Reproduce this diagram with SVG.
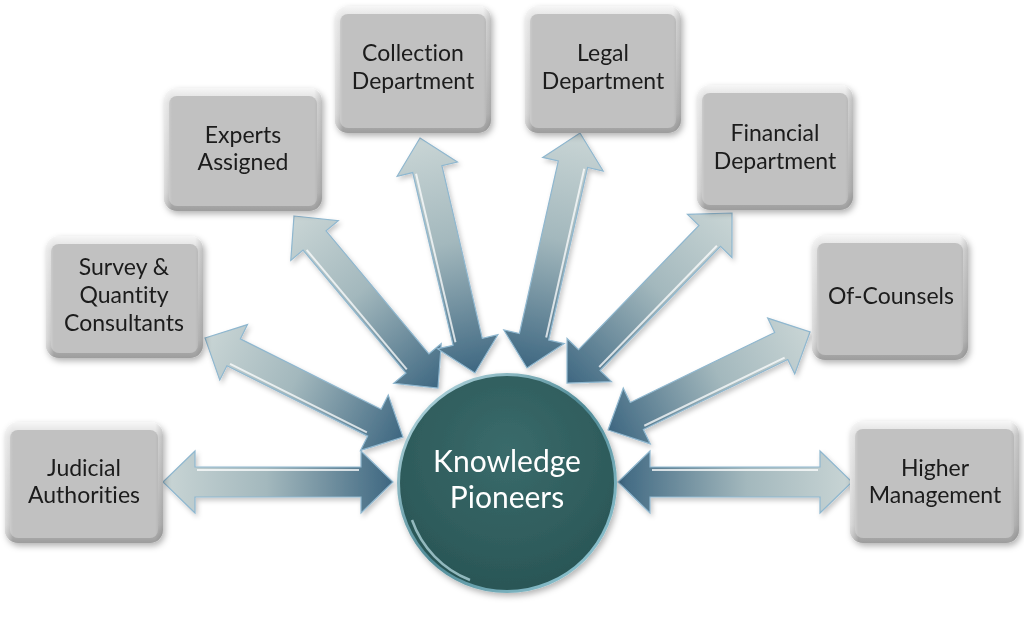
<svg xmlns="http://www.w3.org/2000/svg" width="1024" height="618" viewBox="0 0 1024 618">
<defs>
<linearGradient id="arrowGrad" x1="0" y1="0" x2="1" y2="0">
<stop offset="0" stop-color="#c9d5d5"/>
<stop offset="0.45" stop-color="#a3b8bd"/>
<stop offset="1" stop-color="#3e6781"/>
</linearGradient>
<linearGradient id="boxOuter" x1="0" y1="0" x2="0" y2="1">
<stop offset="0" stop-color="#f7f7f7"/>
<stop offset="0.12" stop-color="#dadada"/>
<stop offset="0.85" stop-color="#bcbcbc"/>
<stop offset="1" stop-color="#9d9d9d"/>
</linearGradient>
<linearGradient id="boxSide" x1="0" y1="0" x2="1" y2="0">
<stop offset="0" stop-color="#ffffff" stop-opacity="0.5"/>
<stop offset="0.05" stop-color="#ffffff" stop-opacity="0"/>
<stop offset="0.95" stop-color="#000000" stop-opacity="0"/>
<stop offset="1" stop-color="#000000" stop-opacity="0.12"/>
</linearGradient>
<radialGradient id="circleGrad" cx="0.5" cy="0.35" r="0.65">
<stop offset="0" stop-color="#3a6b6b"/>
<stop offset="1" stop-color="#2a5656"/>
</radialGradient>
<linearGradient id="rimGrad" x1="0" y1="0" x2="1" y2="1">
<stop offset="0" stop-color="#c8e6ee"/>
<stop offset="0.5" stop-color="#4f8a96"/>
<stop offset="1" stop-color="#9fd3e0"/>
</linearGradient>
<filter id="shadow" x="-20%" y="-20%" width="140%" height="140%">
<feDropShadow dx="2" dy="3" stdDeviation="3" flood-color="#000" flood-opacity="0.3"/>
</filter>
<filter id="ashadow" x="-20%" y="-40%" width="140%" height="180%">
<feDropShadow dx="2" dy="3" stdDeviation="2.5" flood-color="#000" flood-opacity="0.22"/>
</filter>
</defs>
<style>
.arrow { fill: url(#arrowGrad); stroke: #8fb7cf; stroke-width: 1.2; stroke-linejoin: miter; }
.hl { stroke: #ffffff; stroke-opacity: 0.75; stroke-width: 2; fill: none; }
.box-outer { fill: url(#boxOuter); }
.box-inner { fill: #c1c1c1; }
.box-side { fill: url(#boxSide); }
.label { font-family: Lato, "Open Sans", "Liberation Sans", sans-serif; font-size: 23px; fill: #1a1a1a; text-anchor: middle; font-variant-ligatures: none; }
.center-label { font-family: Lato, "Open Sans", "Liberation Sans", sans-serif; font-size: 30px; fill: #ffffff; text-anchor: middle; font-variant-ligatures: none; }
</style>
<rect width="1024" height="618" fill="#ffffff"/>

<g id="connectors" filter="url(#ashadow)">
<g transform="translate(163,482) rotate(0)">
<path class="arrow" d="M0,0 L32,-31 L32,-15 L198,-15 L198,-31 L230,0 L198,31 L198,15 L32,15 L32,31 Z"/>
<path class="hl" d="M34,-12 L196,-12"/>
</g>
<g transform="translate(205,338) rotate(26.57)">
<path class="arrow" d="M0,0 L32,-31 L32,-15 L189.4,-15 L189.4,-31 L221.4,0 L189.4,31 L189.4,15 L32,15 L32,31 Z"/>
<path class="hl" d="M34,12 L187,12"/>
</g>
<g transform="translate(294,216) rotate(50.06)">
<path class="arrow" d="M0,0 L32,-31 L32,-15 L192.3,-15 L192.3,-31 L224.3,0 L192.3,31 L192.3,15 L32,15 L32,31 Z"/>
<path class="hl" d="M34,12 L190,12"/>
</g>
<g transform="translate(420,138) rotate(76.83)">
<path class="arrow" d="M0,0 L32,-31 L32,-15 L209.3,-15 L209.3,-31 L241.3,0 L209.3,31 L209.3,15 L32,15 L32,31 Z"/>
<path class="hl" d="M34,12 L207,12"/>
</g>
<g transform="translate(580,133) rotate(102.71)">
<path class="arrow" d="M0,0 L32,-31 L32,-15 L208.9,-15 L208.9,-31 L240.9,0 L208.9,31 L208.9,15 L32,15 L32,31 Z"/>
<path class="hl" d="M34,-12 L207,-12"/>
</g>
<g transform="translate(732,213) rotate(134.14)">
<path class="arrow" d="M0,0 L32,-31 L32,-15 L204.9,-15 L204.9,-31 L236.9,0 L204.9,31 L204.9,15 L32,15 L32,31 Z"/>
<path class="hl" d="M34,-12 L203,-12"/>
</g>
<g transform="translate(810,332) rotate(154.12)">
<path class="arrow" d="M0,0 L32,-31 L32,-15 L192.5,-15 L192.5,-31 L224.5,0 L192.5,31 L192.5,15 L32,15 L32,31 Z"/>
<path class="hl" d="M34,-12 L190,-12"/>
</g>
<g transform="translate(852,482) rotate(180)">
<path class="arrow" d="M0,0 L32,-31 L32,-15 L202,-15 L202,-31 L234,0 L202,31 L202,15 L32,15 L32,31 Z"/>
<path class="hl" d="M34,12 L200,12"/>
</g>
</g>

<g id="node-judicial" filter="url(#shadow)">
<rect class="box-outer" x="5" y="422" width="158" height="121" rx="13"/>
<rect class="box-inner" x="10" y="430" width="148" height="108" rx="8"/>
<rect class="box-side" x="5" y="422" width="158" height="121" rx="13"/>
<text class="label" x="84" y="476">Judicial</text>
<text class="label" x="84" y="503">Authorities</text>
</g>
<g id="node-survey" filter="url(#shadow)">
<rect class="box-outer" x="46" y="236" width="157" height="122" rx="13"/>
<rect class="box-inner" x="51" y="244" width="147" height="109" rx="8"/>
<rect class="box-side" x="46" y="236" width="157" height="122" rx="13"/>
<text class="label" x="124" y="275">Survey &amp;</text>
<text class="label" x="124" y="303">Quantity</text>
<text class="label" x="124" y="331">Consultants</text>
</g>
<g id="node-experts" filter="url(#shadow)">
<rect class="box-outer" x="164" y="88" width="158" height="123" rx="13"/>
<rect class="box-inner" x="169" y="96" width="148" height="110" rx="8"/>
<rect class="box-side" x="164" y="88" width="158" height="123" rx="13"/>
<text class="label" x="243" y="143">Experts</text>
<text class="label" x="243" y="170">Assigned</text>
</g>
<g id="node-collection" filter="url(#shadow)">
<rect class="box-outer" x="335" y="6" width="156" height="127" rx="13"/>
<rect class="box-inner" x="340" y="14" width="146" height="114" rx="8"/>
<rect class="box-side" x="335" y="6" width="156" height="127" rx="13"/>
<text class="label" x="413" y="61">Collection</text>
<text class="label" x="413" y="89">Department</text>
</g>
<g id="node-legal" filter="url(#shadow)">
<rect class="box-outer" x="525" y="6" width="156" height="127" rx="13"/>
<rect class="box-inner" x="530" y="14" width="146" height="114" rx="8"/>
<rect class="box-side" x="525" y="6" width="156" height="127" rx="13"/>
<text class="label" x="603" y="61">Legal</text>
<text class="label" x="603" y="89">Department</text>
</g>
<g id="node-financial" filter="url(#shadow)">
<rect class="box-outer" x="697" y="85" width="156" height="125" rx="13"/>
<rect class="box-inner" x="702" y="93" width="146" height="112" rx="8"/>
<rect class="box-side" x="697" y="85" width="156" height="125" rx="13"/>
<text class="label" x="775" y="141">Financial</text>
<text class="label" x="775" y="169">Department</text>
</g>
<g id="node-ofcounsels" filter="url(#shadow)">
<rect class="box-outer" x="812" y="235" width="156" height="125" rx="13"/>
<rect class="box-inner" x="817" y="243" width="146" height="112" rx="8"/>
<rect class="box-side" x="812" y="235" width="156" height="125" rx="13"/>
<text class="label" x="891" y="304">Of-Counsels</text>
</g>
<g id="node-higher" filter="url(#shadow)">
<rect class="box-outer" x="850" y="421" width="169" height="122" rx="13"/>
<rect class="box-inner" x="855" y="429" width="159" height="109" rx="8"/>
<rect class="box-side" x="850" y="421" width="169" height="122" rx="13"/>
<text class="label" x="935" y="476">Higher</text>
<text class="label" x="935" y="503">Management</text>
</g>

<g id="node-center" filter="url(#shadow)">
<circle cx="507" cy="483" r="110" fill="url(#rimGrad)"/>
<circle cx="507" cy="483" r="107" fill="url(#circleGrad)"/>
<path d="M412,520 A100,100 0 0 0 470,580" fill="none" stroke="#bfe3ea" stroke-width="2.5" stroke-opacity="0.7"/>
<text class="center-label" x="507" y="472">Knowledge</text>
<text class="center-label" x="507" y="508">Pioneers</text>
</g>
</svg>
